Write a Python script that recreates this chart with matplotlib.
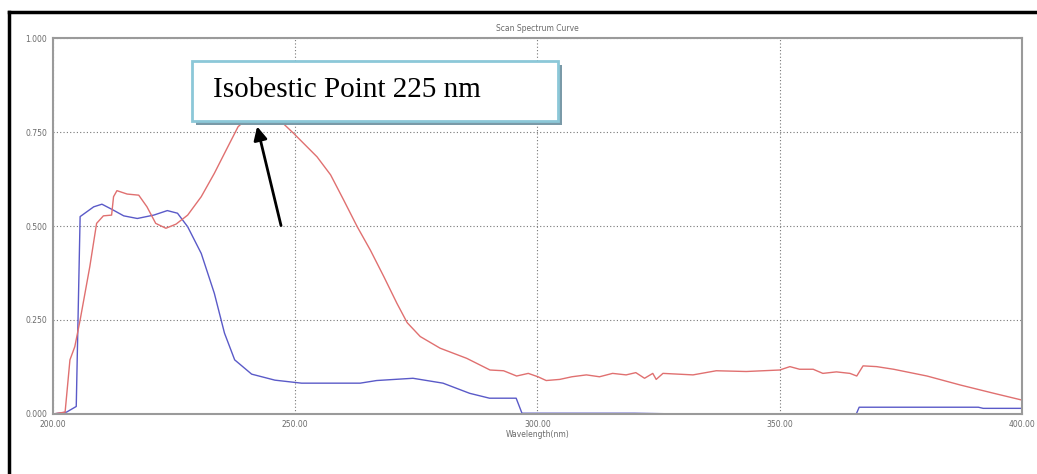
import numpy as np
import matplotlib
matplotlib.use("Agg")
import matplotlib.pyplot as plt
from matplotlib.patches import Rectangle

# spectrum readings (wavelength nm, absorbance)
blue_wl = [200, 202.8, 204.8, 205.6, 208.4, 210.1, 212.2, 214.6, 217.4, 220.8,
           223.6, 225.7, 227.8, 230.6, 233.3, 235.4, 237.5, 241, 245.8, 251.3,
           263.4, 266.8, 274.3, 280.5, 286, 290.1, 295.6, 296.8, 320, 330,
           365.8, 366.4, 391, 392, 400]
blue_abs = [0.0, 0.005, 0.02, 0.525, 0.551, 0.558, 0.544, 0.527, 0.52, 0.529,
            0.541, 0.534, 0.498, 0.427, 0.321, 0.215, 0.144, 0.106, 0.09, 0.082,
            0.082, 0.089, 0.095, 0.082, 0.055, 0.042, 0.042, 0.002, 0.002, 0.0,
            0.0, 0.018, 0.018, 0.015, 0.015]

red_wl = [200, 202.5, 203.5, 204.5, 205.6, 207.6, 209, 210.4, 212.1, 212.5,
          213.2, 215.3, 217.7, 219.4, 221.2, 223.3, 225.4, 227.8, 230.6, 233.3,
          236.1, 238.2, 240, 243, 246.5, 249.7, 254.5, 257.3, 260, 262.8,
          265.5, 268.3, 271, 273.1, 275.8, 279.9, 285.4, 290.2, 293, 295.7,
          298.1, 300.1, 301.8, 304.6, 307.1, 310.1, 312.8, 315.5, 318.3, 320.3,
          322.1, 323.8, 324.5, 325.9, 332.1, 336.9, 343.1, 350, 352.1, 354.1,
          356.9, 358.9, 361.7, 364.5, 365.9, 367.2, 370, 373.5, 380.4, 387.3,
          394.2, 400]
red_abs = [0.0, 0.005, 0.144, 0.179, 0.25, 0.392, 0.507, 0.527, 0.529, 0.578,
           0.594, 0.585, 0.582, 0.551, 0.507, 0.494, 0.505, 0.529, 0.578, 0.640,
           0.711, 0.764, 0.785, 0.795, 0.785, 0.746, 0.684, 0.636, 0.569, 0.498,
           0.436, 0.365, 0.294, 0.243, 0.206, 0.175, 0.148, 0.117, 0.115, 0.101,
           0.108, 0.099, 0.089, 0.092, 0.099, 0.104, 0.099, 0.108, 0.104, 0.110,
           0.095, 0.108, 0.092, 0.108, 0.104, 0.115, 0.113, 0.117, 0.126, 0.119,
           0.119, 0.108, 0.112, 0.108, 0.101, 0.128, 0.126, 0.119, 0.101, 0.077,
           0.055, 0.037]

x_ticks = [200, 250, 300, 350, 400]
y_ticks = [0.0, 0.25, 0.5, 0.75, 1.0]

fig = plt.figure(figsize=(10.37, 4.74), dpi=100)
ax = fig.add_axes([0.0511, 0.1266, 0.9344, 0.7932])

ax.plot(blue_wl, blue_abs, color="#5a5ac8", lw=1.0)
ax.plot(red_wl, red_abs, color="#e07070", lw=1.0)

ax.set_xlim(200, 400)
ax.set_ylim(0, 1.0)
ax.set_xticks(x_ticks)
ax.set_xticklabels(["%.2f" % v for v in x_ticks])
ax.set_yticks(y_ticks)
ax.set_yticklabels(["%.3f" % v for v in y_ticks])
ax.tick_params(length=0, labelsize=5.5, labelcolor="#6a6a6a", pad=4)
ax.grid(True, color="#777777", lw=0.8, linestyle=(0, (1, 2)))
for s in ax.spines.values():
    s.set_color("#9a9a9a")
    s.set_linewidth(1.5)

ax.set_title("Scan Spectrum Curve", fontsize=5.5, color="#6a6a6a", pad=5)
ax.set_xlabel("Wavelength(nm)", fontsize=5.5, color="#6a6a6a", labelpad=1)

# annotation box with shadow
fig.patches.append(Rectangle((0.1887, 0.7370), 0.3535, 0.1266, transform=fig.transFigure,
                             facecolor="#7a9aa8", edgecolor="none", zorder=5))
fig.patches.append(Rectangle((0.1849, 0.7454), 0.3535, 0.1266, transform=fig.transFigure,
                             facecolor="white", edgecolor="#8cc8d8", lw=2, zorder=6))
fig.text(0.2051, 0.8101, "Isobestic Point 225 nm", fontsize=21, family="Liberation Serif",
         va="center", ha="left", zorder=7)

ax.annotate("", xy=(242.0, 0.772), xytext=(247.2, 0.494),
            arrowprops=dict(arrowstyle="-|>", color="black", lw=2, mutation_scale=20),
            annotation_clip=False)

# outer frame (top and left edges show)
fig.add_artist(plt.Line2D([0.0087, 1.0], [0.9747, 0.9747], color="black", lw=2.5,
                          transform=fig.transFigure))
fig.add_artist(plt.Line2D([0.0087, 0.0087], [0.0, 0.9747], color="black", lw=2.5,
                          transform=fig.transFigure))

fig.savefig("out.png", dpi=100)
